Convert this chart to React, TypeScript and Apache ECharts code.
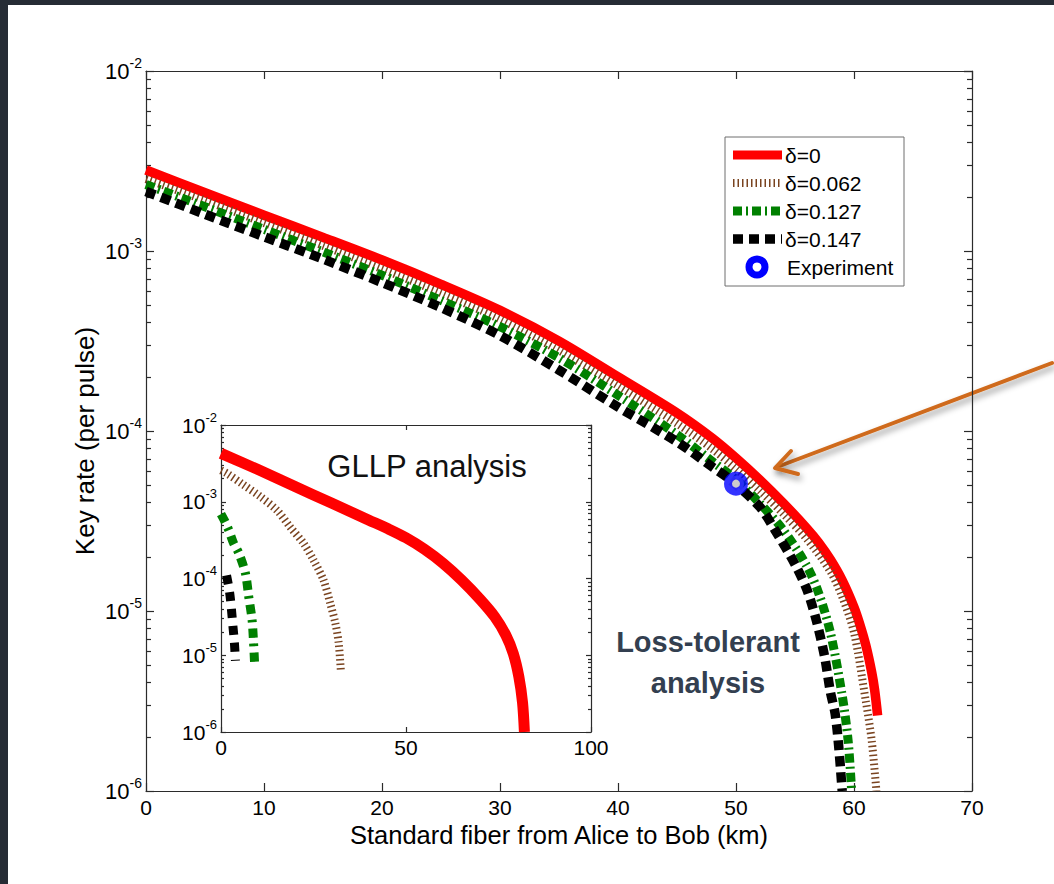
import React, { useEffect, useRef } from "react";
import * as echarts from "echarts";

const W = 1054;
const H = 884;
const FONT = '"Liberation Sans", Arial, Helvetica, sans-serif';

// ---------- Main panel (loss-tolerant analysis) ----------
const kmDelta0 = [0, 5, 10, 15, 20, 25, 30, 35, 40, 45, 48, 50, 52, 54, 56, 57, 58, 59, 60, 60.5, 61, 61.5, 61.75, 62];
const rateDelta0 = [2.82e-3, 2.11e-3, 1.58e-3, 1.19e-3, 8.91e-4, 6.53e-4, 4.68e-4, 3.16e-4, 2.0e-4, 1.26e-4, 9.12e-5, 7.08e-5, 5.37e-5, 3.98e-5, 2.88e-5, 2.4e-5, 1.93e-5, 1.48e-5, 1.05e-5, 8.41e-6, 6.46e-6, 4.57e-6, 3.63e-6, 2.63e-6];

const kmDelta062 = [0, 5, 10, 15, 20, 25, 30, 35, 40, 45, 48, 50, 52, 54, 56, 58, 59, 60, 61, 61.5, 61.9];
const rateDelta062 = [2.51e-3, 1.91e-3, 1.43e-3, 1.07e-3, 7.94e-4, 5.83e-4, 4.17e-4, 2.8e-4, 1.78e-4, 1.1e-4, 7.94e-5, 6.17e-5, 4.68e-5, 3.47e-5, 2.51e-5, 1.66e-5, 1.2e-5, 7.59e-6, 3.16e-6, 1.91e-6, 1.0e-6];

const kmDelta127 = [0, 5, 10, 15, 20, 25, 30, 35, 40, 45, 48, 50, 52, 54, 56, 57, 58, 59, 59.5, 59.8];
const rateDelta127 = [2.34e-3, 1.76e-3, 1.32e-3, 9.89e-4, 7.33e-4, 5.31e-4, 3.8e-4, 2.55e-4, 1.58e-4, 9.55e-5, 6.76e-5, 5.37e-5, 3.98e-5, 2.82e-5, 1.78e-5, 1.26e-5, 7.59e-6, 3.39e-6, 1.91e-6, 1.0e-6];

const kmDelta147 = [0, 5, 10, 15, 20, 25, 30, 35, 40, 45, 48, 49.5, 52, 53.3, 55, 56, 56.8, 57.5, 58, 58.4, 58.7, 59];
const rateDelta147 = [2.14e-3, 1.6e-3, 1.2e-3, 9.02e-4, 6.68e-4, 4.85e-4, 3.39e-4, 2.18e-4, 1.36e-4, 8.71e-5, 6.31e-5, 5.37e-5, 3.8e-5, 2.82e-5, 1.82e-5, 1.32e-5, 8.91e-6, 5.62e-6, 3.55e-6, 2.69e-6, 1.78e-6, 1.0e-6];

const kmExperiment = [50];
const rateExperiment = [5.1e-5];

// ---------- Inset (GLLP analysis) ----------
const gllpKm0 = [0, 10, 20, 30, 40, 45, 50, 55, 60, 65, 70, 74, 77, 79, 80.5, 81.5, 82];
const gllpRate0 = [4.27e-3, 2.63e-3, 1.58e-3, 9.55e-4, 5.75e-4, 4.47e-4, 3.39e-4, 2.4e-4, 1.58e-4, 9.55e-5, 5.37e-5, 3.16e-5, 1.82e-5, 1.05e-5, 5.25e-6, 2.4e-6, 1.0e-6];

const gllpKm062 = [0, 1.6, 6.1, 10.6, 15.1, 18.7, 22.3, 25.0, 27.7, 29.5, 30.9, 31.8, 32.4];
const gllpRate062 = [2.57e-3, 2.34e-3, 1.66e-3, 1.17e-3, 7.76e-4, 4.68e-4, 2.88e-4, 1.74e-4, 9.55e-5, 4.79e-5, 2.63e-5, 1.45e-5, 6.17e-6];

const gllpKm127 = [0, 1, 2.1, 3.4, 4.8, 6.6, 7.5, 8.4, 8.8, 9.1];
const gllpRate127 = [6.9e-4, 5.6e-4, 4.27e-4, 2.88e-4, 2.14e-4, 1.17e-4, 5.75e-5, 2.88e-5, 1.45e-5, 7.41e-6];

const gllpKm147 = [1.5, 2.3, 2.8, 3.2, 3.6, 3.9];
const gllpRate147 = [1.1e-4, 6.76e-5, 4.07e-5, 2.45e-5, 1.51e-5, 8.5e-6];

// ---------- Axis ticks / labels ----------
const mainXTicks = { min: 0, max: 70, interval: 10 };
const insetXTicks = { min: 0, max: 100, interval: 50 };
const rateMin = 1e-6;
const rateMax = 1e-2;
const legendLabels = ["\u03b4=0", "\u03b4=0.062", "\u03b4=0.127", "\u03b4=0.147", "Experiment"];

// styles
const RED = "#ff0000";
const BROWN = "#7a4420";
const GREEN = "#008000";
const BLACK = "#000000";
const BLUE = "#0000ff";
const AXIS = { color: "#2b2b2b", width: 1.2 };

const minorExps: number[] = [];
for (let k = -6; k < -2; k++) for (let m = 2; m <= 9; m++) minorExps.push(k + Math.log10(m));

function pairs(xs: number[], ys: number[]) {
  return xs.map((x, i) => [x, ys[i]]);
}

function lineSeries(name: string, xs: number[], ys: number[], xi: number, yi: number, color: string, width: number, dash: any, z: number) {
  return {
    name,
    type: "line",
    xAxisIndex: xi,
    yAxisIndex: yi,
    data: pairs(xs, ys),
    showSymbol: false,
    symbol: "none",
    smooth: 0.3,
    silent: true,
    z,
    lineStyle: { color, width, type: dash, cap: "butt", join: "round" },
    emphasis: { disabled: true },
  };
}

function xAxis(gridIndex: number, t: any, position: string, showLabel: boolean, fontSize: number, tickLen: number, margin: number, extra: any = {}) {
  return {
    type: "value",
    gridIndex,
    min: t.min,
    max: t.max,
    interval: t.interval,
    position,
    axisLine: { show: true, onZero: false, lineStyle: AXIS },
    axisTick: { show: true, inside: true, length: tickLen, lineStyle: AXIS },
    axisLabel: { show: showLabel, fontSize, color: "#000", fontFamily: FONT, margin, lineHeight: fontSize },
    splitLine: { show: false },
    minorTick: { show: false },
    ...extra,
  };
}

function yLogAxis(gridIndex: number, position: string, showLabel: boolean, big: number, small: number, tickLen: number, margin: number, extra: any = {}) {
  return {
    type: "log",
    logBase: 10,
    gridIndex,
    min: rateMin,
    max: rateMax,
    position,
    axisLine: { show: true, onZero: false, lineStyle: AXIS },
    axisTick: { show: true, inside: true, length: tickLen, lineStyle: AXIS },
    axisLabel: {
      show: showLabel,
      margin,
      formatter: (v: number) => `{b|10}{s|${Math.round(Math.log10(v))}}`,
      rich: {
        b: { fontSize: big, fontFamily: FONT, color: "#000", lineHeight: big + 8 },
        s: { fontSize: small, fontFamily: FONT, color: "#000", lineHeight: small, verticalAlign: "top" },
      },
    },
    splitLine: { show: false },
    minorTick: { show: false },
    ...extra,
  };
}

function yMinorAxis(gridIndex: number, position: string, tickLen: number) {
  return {
    type: "value",
    gridIndex,
    min: -6,
    max: -2,
    position,
    axisLine: { show: false, onZero: false },
    axisTick: { show: true, inside: true, length: tickLen, lineStyle: AXIS, customValues: minorExps },
    axisLabel: { show: false },
    splitLine: { show: false },
  };
}

function buildOption(): any {
  const rows = [155, 183, 211, 239, 267];
  const legendStyles = [
    { color: RED, width: 9, dash: null },
    { color: BROWN, width: 8, dash: [1.5, 3] },
    { color: GREEN, width: 9, dash: [9, 4, 2, 4] },
    { color: BLACK, width: 9.5, dash: [10, 6] },
  ];
  const legendEls: any[] = [
    {
      type: "rect",
      shape: { x: 725, y: 137, width: 179, height: 149 },
      style: { fill: "#fff", stroke: "#6e6e6e", lineWidth: 1 },
    },
  ];
  legendStyles.forEach((s, i) => {
    legendEls.push({
      type: "line",
      shape: { x1: 733, y1: rows[i], x2: 782, y2: rows[i] },
      style: { stroke: s.color, lineWidth: s.width, lineDash: s.dash, lineCap: "butt" },
    });
  });
  legendEls.push({
    type: "circle",
    shape: { cx: 757, cy: rows[4], r: 8 },
    style: { fill: "#fff", stroke: BLUE, lineWidth: 7 },
  });
  legendLabels.forEach((t, i) => {
    legendEls.push({
      type: "text",
      x: i === 4 ? 787 : 785,
      y: rows[i],
      style: { text: t, fontSize: 21, fontFamily: FONT, fill: "#000", align: "left", verticalAlign: "middle" },
    });
  });

  const arrowShadow = { shadowBlur: 6, shadowOffsetX: 2, shadowOffsetY: 4, shadowColor: "rgba(0,0,0,0.4)" };

  return {
    animation: false,
    backgroundColor: "#fff",
    grid: [
      { left: 146, top: 71, width: 826, height: 720, containLabel: false, outerBoundsMode: "none" },
      { left: 221, top: 425, width: 370, height: 307, containLabel: false, outerBoundsMode: "none", show: true, backgroundColor: "#fff", borderWidth: 0 },
    ],
    xAxis: [
      xAxis(0, mainXTicks, "bottom", true, 21, 8, 6, {
        name: "Standard fiber from Alice to Bob (km)",
        nameLocation: "middle",
        nameGap: 31,
        nameMoveOverlap: false,
        nameTextStyle: { fontSize: 25.5, color: "#000", fontFamily: FONT, lineHeight: 25 },
      }),
      xAxis(0, mainXTicks, "top", false, 21, 8, 6),
      xAxis(1, insetXTicks, "bottom", true, 21, 5, 5),
      xAxis(1, insetXTicks, "top", false, 21, 5, 5),
    ],
    yAxis: [
      yLogAxis(0, "left", true, 22, 14, 8, 4, {
        name: "Key rate (per pulse)",
        nameLocation: "middle",
        nameGap: 48,
        nameRotate: 90,
        nameMoveOverlap: false,
        nameTextStyle: { fontSize: 26, color: "#000", fontFamily: FONT, padding: [0, 20, 0, 0] },
      }),
      yLogAxis(0, "right", false, 22, 14, 8, 4),
      yMinorAxis(0, "left", 5),
      yMinorAxis(0, "right", 5),
      yLogAxis(1, "left", true, 21, 13, 5, 4),
      yLogAxis(1, "right", false, 21, 13, 5, 4),
      yMinorAxis(1, "left", 3),
      yMinorAxis(1, "right", 3),
    ],
    series: [
      lineSeries("\u03b4=0", kmDelta0, rateDelta0, 0, 0, RED, 9.5, "solid", 2),
      lineSeries("\u03b4=0.062", kmDelta062, rateDelta062, 0, 0, BROWN, 8, [1.5, 3], 3),
      lineSeries("\u03b4=0.127", kmDelta127, rateDelta127, 0, 0, GREEN, 9, [9, 4, 2, 4], 4),
      lineSeries("\u03b4=0.147", kmDelta147, rateDelta147, 0, 0, BLACK, 9.5, [10, 6], 5),
      {
        name: "Experiment",
        type: "scatter",
        xAxisIndex: 0,
        yAxisIndex: 0,
        data: pairs(kmExperiment, rateExperiment),
        symbol: "circle",
        symbolSize: 16,
        silent: true,
        z: 6,
        itemStyle: { color: "#fff", borderColor: BLUE, borderWidth: 8 },
      },
      lineSeries("GLLP \u03b4=0", gllpKm0, gllpRate0, 2, 4, RED, 11, "solid", 2),
      lineSeries("GLLP \u03b4=0.062", gllpKm062, gllpRate062, 2, 4, BROWN, 8, [1.5, 3], 3),
      lineSeries("GLLP \u03b4=0.127", gllpKm127, gllpRate127, 2, 4, GREEN, 9, [9, 6, 3, 6], 4),
      lineSeries("GLLP \u03b4=0.147", gllpKm147, gllpRate147, 2, 4, BLACK, 9, [9, 8], 5),
    ],
    graphic: [
      { type: "rect", z: 200, shape: { x: 0, y: 0, width: W, height: 5 }, style: { fill: "#262c35" } },
      { type: "rect", z: 200, shape: { x: 0, y: 0, width: 8, height: H }, style: { fill: "#262c35" } },
      {
        type: "text",
        z: 100,
        x: 427,
        y: 466,
        style: { text: "GLLP analysis", fontSize: 31, fontFamily: FONT, fill: "#111", align: "center", verticalAlign: "middle" },
      },
      {
        type: "text",
        z: 100,
        x: 708,
        y: 662,
        style: {
          text: "Loss-tolerant\nanalysis",
          fontSize: 29,
          fontWeight: "bold",
          lineHeight: 41,
          fontFamily: FONT,
          fill: "#333f50",
          align: "center",
          verticalAlign: "middle",
        },
      },
      {
        type: "group",
        z: 100,
        children: legendEls,
      },
      {
        type: "group",
        z: 110,
        children: [
          {
            type: "line",
            shape: { x1: 1052, y1: 363, x2: 777, y2: 467 },
            style: { stroke: "#cf6a1b", lineWidth: 4, lineCap: "round", ...arrowShadow },
          },
          {
            type: "polyline",
            shape: { points: [[791, 451], [775, 468], [798, 474]] },
            style: { stroke: "#cf6a1b", fill: null, lineWidth: 4, lineCap: "round", lineJoin: "round", ...arrowShadow },
          },
        ],
      },
    ],
  };
}

export default function App() {
  const ref = useRef<HTMLDivElement>(null);
  useEffect(() => {
    if (!ref.current) return;
    const chart = echarts.init(ref.current, null, { renderer: "svg", width: W, height: H });
    chart.setOption(buildOption());
    return () => chart.dispose();
  }, []);
  return (
    <div
      ref={ref}
      style={{ position: "fixed", left: 0, top: 0, width: W, height: H, background: "#fff" }}
    />
  );
}
